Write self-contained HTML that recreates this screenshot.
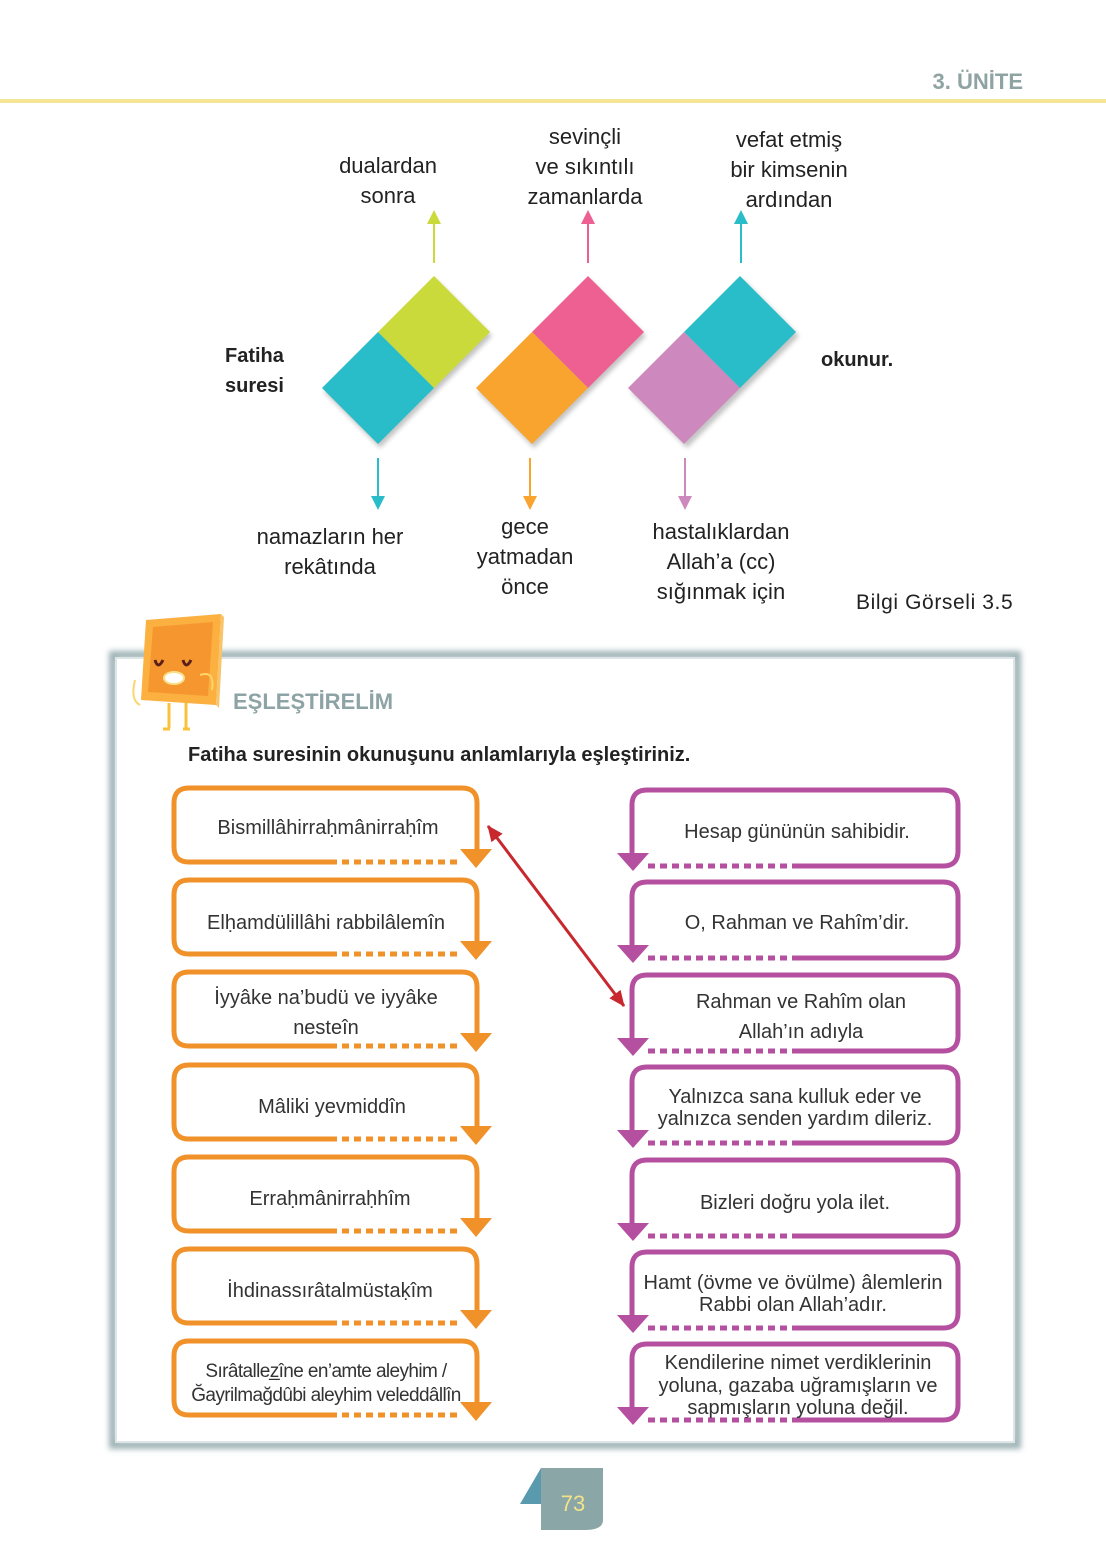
<!DOCTYPE html>
<html><head><meta charset="utf-8"><style>
html,body{margin:0;padding:0;background:#fff;}
svg{display:block;}
text{font-family:"Liberation Sans",sans-serif;}
</style></head><body>
<svg width="1106" height="1560" viewBox="0 0 1106 1560" xmlns="http://www.w3.org/2000/svg">
<defs>
<filter id="sh" x="-10%" y="-10%" width="130%" height="130%"><feGaussianBlur stdDeviation="3"/></filter>
<filter id="ds" x="-20%" y="-20%" width="150%" height="150%"><feGaussianBlur stdDeviation="2.5"/></filter>
<g id="lb">
<path d="M156,74 H15 Q0,74 0,59 V15 Q0,0 15,0 H288 Q303,0 303,15 V66" fill="none" stroke="#f0912a" stroke-width="5"/>
<path d="M156,74 H288" fill="none" stroke="#f0912a" stroke-width="5" stroke-dasharray="7,5"/>
<polygon points="286,61 318,61 302,80" fill="#f0912a"/>
</g>
<g id="rb">
<path d="M160,76 H311 Q326,76 326,61 V15 Q326,0 311,0 H15 Q0,0 0,15 V66" fill="none" stroke="#b4509f" stroke-width="5"/>
<path d="M16,76 H160" fill="none" stroke="#b4509f" stroke-width="5" stroke-dasharray="7,5"/>
<polygon points="-15,63 17,63 1,81" fill="#b4509f"/>
</g>
<marker id="ar0" markerWidth="18" markerHeight="16" refX="15" refY="8" orient="auto-start-reverse" markerUnits="userSpaceOnUse"><path d="M0,1 L16,8 L0,15 z" fill="#c8282d"/></marker>
</defs>

<text x="1023" y="89" text-anchor="end" font-size="22" font-weight="bold" fill="#8fa3a3">3. ÜNİTE</text>
<rect x="0" y="99" width="1106" height="4" fill="#f4e597"/>

<g filter="url(#ds)" opacity="0.35">
<polygon points="436,280 492,336 436,392 380,448 324,392 380,336" fill="#555"/>
<polygon points="590,280 646,336 590,392 534,448 478,392 534,336" fill="#555"/>
<polygon points="743,280 799,336 743,392 687,448 631,392 687,336" fill="#555"/>
</g>
<polygon points="434,276 490,332 434,388 378,332" fill="#c9da3a"/>
<polygon points="378,332 434,388 378,444 322,388" fill="#29bdc9"/>
<polygon points="588,276 644,332 588,388 532,332" fill="#ee5f92"/>
<polygon points="532,332 588,388 532,444 476,388" fill="#f8a42f"/>
<polygon points="740,276 796,332 740,388 684,332" fill="#29bdc9"/>
<polygon points="684,332 740,388 684,444 628,388" fill="#cd88bd"/>

<g stroke-width="2">
<line x1="434" y1="263" x2="434" y2="222" stroke="#c9da3a"/><polygon points="427,224 441,224 434,210" fill="#c9da3a"/>
<line x1="588" y1="263" x2="588" y2="222" stroke="#ee5f92"/><polygon points="581,224 595,224 588,210" fill="#ee5f92"/>
<line x1="741" y1="263" x2="741" y2="222" stroke="#29bdc9"/><polygon points="734,224 748,224 741,210" fill="#29bdc9"/>
<line x1="378" y1="458" x2="378" y2="498" stroke="#29bdc9"/><polygon points="371,496 385,496 378,510" fill="#29bdc9"/>
<line x1="530" y1="458" x2="530" y2="498" stroke="#f8a42f"/><polygon points="523,496 537,496 530,510" fill="#f8a42f"/>
<line x1="685" y1="458" x2="685" y2="498" stroke="#cd88bd"/><polygon points="678,496 692,496 685,510" fill="#cd88bd"/>
</g>

<g font-size="22" fill="#222" text-anchor="middle">
<text x="388" y="173">dualardan</text><text x="388" y="203">sonra</text>
<text x="585" y="144">sevinçli</text><text x="585" y="174">ve sıkıntılı</text><text x="585" y="204">zamanlarda</text>
<text x="789" y="147">vefat etmiş</text><text x="789" y="177">bir kimsenin</text><text x="789" y="207">ardından</text>
<text x="330" y="544">namazların her</text><text x="330" y="574">rekâtında</text>
<text x="525" y="534">gece</text><text x="525" y="564">yatmadan</text><text x="525" y="594">önce</text>
<text x="721" y="539">hastalıklardan</text><text x="721" y="569">Allah’a (cc)</text><text x="721" y="599">sığınmak için</text>
</g>
<g font-size="20" font-weight="bold" fill="#222">
<text x="225" y="362">Fatiha</text><text x="225" y="392">suresi</text>
<text x="821" y="366">okunur.</text>
</g>
<text x="856" y="609" font-size="21" letter-spacing="0.6" fill="#222">Bilgi Görseli 3.5</text>

<rect x="113" y="655" width="904" height="790" fill="none" stroke="#9fb3b6" stroke-width="8" filter="url(#sh)"/>
<rect x="116" y="658" width="898" height="784" fill="#fff" stroke="#dde5e6" stroke-width="2"/>

<polygon points="141,700 216,705 221,614 146,620" fill="#fbb040"/>
<polygon points="148,692 208,696 213,622 153,627" fill="#f5962f"/>
<polygon points="216,705 221,614 224,617 219,708" fill="#f9c36a"/>
<path d="M155,660 Q158,670 163,660 M183,660 Q186,670 191,660" stroke="#5a1f1a" stroke-width="3" fill="none"/>
<ellipse cx="174" cy="678" rx="10" ry="6" fill="#fff" stroke="#f8e08a" stroke-width="2"/>
<path d="M135,680 Q130,700 140,705 M200,675 Q215,670 212,690" stroke="#fbd66a" stroke-width="2" fill="none"/>
<path d="M169,703 V728 M186,703 V728 M163,729 H170 M183,729 H190" stroke="#fbc13a" stroke-width="3" fill="none"/>

<text x="233" y="709" font-size="22" font-weight="bold" fill="#8ea3a5">EŞLEŞTİRELİM</text>
<text x="188" y="761" font-size="20" font-weight="bold" fill="#222">Fatiha suresinin okunuşunu anlamlarıyla eşleştiriniz.</text>

<use href="#lb" x="174" y="788"/>
<use href="#lb" x="174" y="880"/>
<use href="#lb" x="174" y="972"/>
<use href="#lb" x="174" y="1065"/>
<use href="#lb" x="174" y="1157"/>
<use href="#lb" x="174" y="1249"/>
<use href="#lb" x="174" y="1341"/>
<use href="#rb" x="632" y="790"/>
<use href="#rb" x="632" y="882"/>
<use href="#rb" x="632" y="975"/>
<use href="#rb" x="632" y="1067"/>
<use href="#rb" x="632" y="1160"/>
<use href="#rb" x="632" y="1252"/>
<use href="#rb" x="632" y="1344"/>

<g font-size="20" fill="#333" text-anchor="middle">
<text x="328" y="834">Bismillâhirraḥmânirraḥîm</text>
<text x="326" y="929">Elḥamdülillâhi rabbilâlemîn</text>
<text x="326" y="1004">İyyâke na’budü ve iyyâke</text><text x="326" y="1034">nesteîn</text>
<text x="332" y="1113">Mâliki yevmiddîn</text>
<text x="330" y="1205">Erraḥmânirraḥhîm</text>
<text x="330" y="1297">İhdinassırâtalmüstaḳîm</text>
<text x="326" y="1377" font-size="19" letter-spacing="-0.6">Sırâtallez̲îne en’amte aleyhim /</text><text x="326" y="1401" font-size="19" letter-spacing="-0.6">Ğayrilmağdûbi aleyhim veleddâllîn</text>

<text x="797" y="838">Hesap gününün sahibidir.</text>
<text x="797" y="929">O, Rahman ve Rahîm’dir.</text>
<text x="801" y="1008">Rahman ve Rahîm olan</text><text x="801" y="1038">Allah’ın adıyla</text>
<text x="795" y="1103">Yalnızca sana kulluk eder ve</text><text x="795" y="1125">yalnızca senden yardım dileriz.</text>
<text x="795" y="1209">Bizleri doğru yola ilet.</text>
<text x="793" y="1289">Hamt (övme ve övülme) âlemlerin</text><text x="793" y="1311">Rabbi olan Allah’adır.</text>
<text x="798" y="1369">Kendilerine nimet verdiklerinin</text><text x="798" y="1392">yoluna, gazaba uğramışların ve</text><text x="798" y="1414">sapmışların yoluna değil.</text>
</g>

<line x1="488" y1="826" x2="624" y2="1006" stroke="#c8282d" stroke-width="3" marker-start="url(#ar0)" marker-end="url(#ar0)"/>

<polygon points="520,1504 541,1468 541,1504" fill="#5a9aae"/>
<path d="M541,1468 H603 V1520 Q603,1530 585,1530 H541 Z" fill="#8ba6a6"/>
<text x="573" y="1511" font-size="22" fill="#f2e38a" text-anchor="middle">73</text>
</svg>
</body></html>
